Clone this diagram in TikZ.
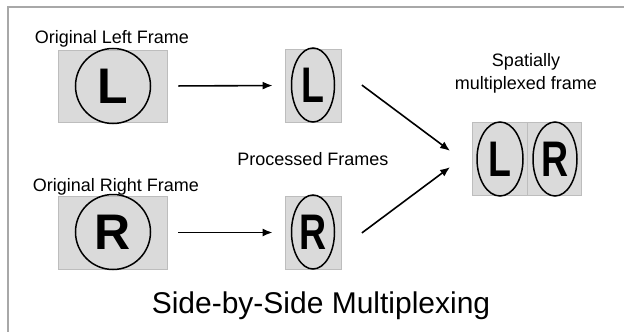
\documentclass[tikz,border=0pt]{standalone}
\usepackage{fontspec}
\setmainfont{Liberation Sans}
\usetikzlibrary{shapes.geometric,arrows.meta}

\definecolor{boxgray}{HTML}{DADADA}
\definecolor{boxline}{HTML}{BDBDBD}
\definecolor{rimgray}{HTML}{A8A8A8}

\newcommand{\narrow}[1]{\scalebox{0.75}[1]{#1}}

\begin{document}
\begin{tikzpicture}[
  x=1pt, y=-1pt,
  font=\fontsize{18}{23}\selectfont,
  frame/.style={rectangle, draw=boxline, fill=boxgray, line width=0.8pt, inner sep=0pt},
  ring/.style={circle, draw, line width=1.5pt, minimum size=75pt, inner sep=0pt,
    font=\fontsize{50}{50}\selectfont\bfseries},
  squeezed/.style={ellipse, draw, line width=1.5pt, minimum width=43pt, minimum height=74pt,
    inner sep=0pt, font=\fontsize{50}{50}\selectfont\bfseries},
  edge/.style={-{Latex[length=10pt,width=8pt]}, line width=1.6pt},
  lbl/.style={anchor=base, inner sep=0pt, align=center}
]

\useasboundingbox (0,0) rectangle (624,332);

%======================
% OUTER RIM
%======================

\coordinate (rimA) at (8,332);
\coordinate (rimB) at (8,7);
\coordinate (rimC) at (624,7);
\draw[rimgray, line width=1.2pt] (rimA) -- (rimB) -- (rimC);

%======================
% ORIGINAL FRAMES
%======================

% left
\node[frame, minimum width=109pt, minimum height=72pt] (origL) at (112.5,86) {};
\node[ring] (ringL) at (113,86) {L};
\node[lbl] (origLtxt) at (112,43) {Original Left Frame};

% right
\node[frame, minimum width=109pt, minimum height=73pt] (origR) at (112.5,232.5) {};
\node[ring] (ringR) at (113,232) {R};
\node[lbl] (origRtxt) at (116,191) {Original Right Frame};

%======================
% PROCESSED FRAMES
%======================

\node[frame, minimum width=56pt, minimum height=73pt] (procL) at (313,85.5) {};
\node[squeezed] (ovalL) at (313,85) {\narrow{L}};

\node[frame, minimum width=56pt, minimum height=73pt] (procR) at (313,232.5) {};
\node[squeezed] (ovalR) at (313,232) {\narrow{R}};

\node[lbl] (proctxt) at (313,165) {Processed Frames};

%======================
% MULTIPLEXED FRAME
%======================

\node[frame, minimum width=55pt, minimum height=73pt] (muxL) at (499.5,158.5) {};
\node[frame, minimum width=54pt, minimum height=73pt] (muxR) at (554,158.5) {};
\node[squeezed, minimum width=46pt] (muxovalL) at (500,159) {\narrow{L}};
\node[squeezed, minimum width=44pt] (muxovalR) at (555,159) {\narrow{R}};

\node[lbl] (muxtxt) at (526,89) {Spatially\\multiplexed frame};

% arrows
\coordinate (meet) at (461,159);
\draw[edge, shorten <=11pt, shorten >=12pt] (origL.east) -- (procL.west);
\draw[edge, shorten <=11pt, shorten >=12pt] (origR.east) -- (procR.west);
\draw[edge, shorten <=61pt, shorten >=13.6pt] (procL.north) -- (meet);
\draw[edge, shorten <=61pt, shorten >=13.6pt] (procR.south) -- (meet);

% title
\node[lbl, font=\fontsize{30}{36}\selectfont] (title) at (321,313) {Side-by-Side Multiplexing};

\end{tikzpicture}
\end{document}
